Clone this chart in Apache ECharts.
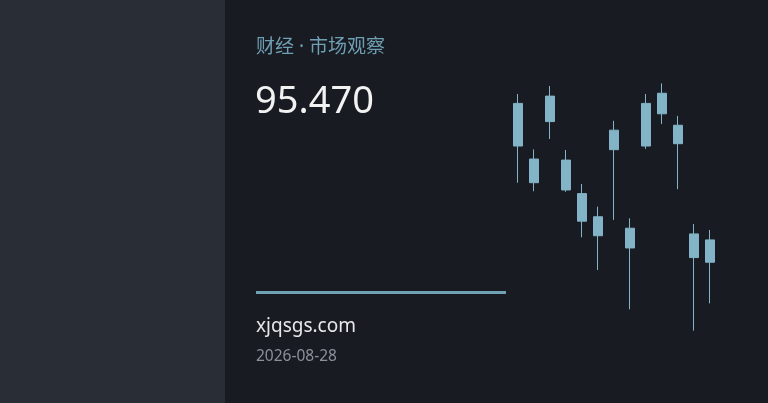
<!DOCTYPE html>
<html><head><meta charset="utf-8">
<script src="https://cdn.jsdelivr.net/npm/echarts@6/dist/echarts.min.js"></script>
<style>html,body{margin:0;padding:0;background:#181b22;}#c{width:768px;height:403px;}</style>
</head><body><div id="c"></div>
<script>
const categories = ['1','2','3','4','5','6','7','8','9','10','11','12','13'];
// [open, close, low, high]
const opens  = [97.46, 96.96, 98.40, 96.92, 95.63, 94.74, 97.32, 94.30, 97.46, 98.70, 98.26, 94.08, 93.85];
const closes = [99.10, 96.05, 99.38, 95.77, 94.57, 94.01, 98.07, 93.54, 99.10, 99.49, 97.55, 93.17, 92.99];
const lows   = [96.05, 95.72, 97.73, 95.70, 93.95, 92.69, 94.62, 91.18, 97.35, 98.31, 95.80, 90.36, 91.41];
const highs  = [99.46, 97.33, 99.77, 97.31, 96.00, 95.13, 98.43, 94.68, 99.46, 99.87, 98.62, 94.46, 94.23];
const titleText = '财经 · 市场观察';
const priceText = '95.470';
const siteText = 'xjqsgs.com';
const dateText = '2026-08-28';

const ohlc = categories.map((c,i)=>[opens[i],closes[i],lows[i],highs[i]]);
const font = '"Noto Sans","Noto Sans CJK SC",sans-serif';
const chart = echarts.init(document.getElementById('c'));
const candleColor = '#82b3c7';
chart.setOption({
  backgroundColor: '#181b22',
  animation: false,
  grid: {left: 510, width: 208, top: 80, height: 260},
  xAxis: {type: 'category', data: categories, show: false, boundaryGap: true},
  yAxis: {type: 'value', min: 90, max: 100, show: false},
  graphic: [
    {type: 'rect', left: 0, top: 0, shape: {width: 225, height: 403}, style: {fill: '#292d36'}, z: -10},
    {type: 'text', left: 256, top: 38, style: {text: titleText, fill: '#6f9fb3', font: '19px ' + font}},
    {type: 'text', left: 255, top: 83, style: {text: priceText, fill: '#f2f2f2', font: '38px ' + font}},
    {type: 'rect', left: 256, top: 291, shape: {width: 250, height: 3}, style: {fill: '#6fa3b3'}},
    {type: 'text', left: 256, top: 317, style: {text: siteText, fill: '#e8e8ea', font: '19px ' + font}},
    {type: 'text', left: 256, top: 349, style: {text: dateText, fill: '#8b9099', font: '15.5px ' + font}}
  ],
  series: [{
    type: 'candlestick',
    data: ohlc,
    barWidth: 10,
    itemStyle: {color: candleColor, color0: candleColor, borderColor: candleColor, borderColor0: candleColor, borderWidth: 1}
  }]
});
</script></body></html>
